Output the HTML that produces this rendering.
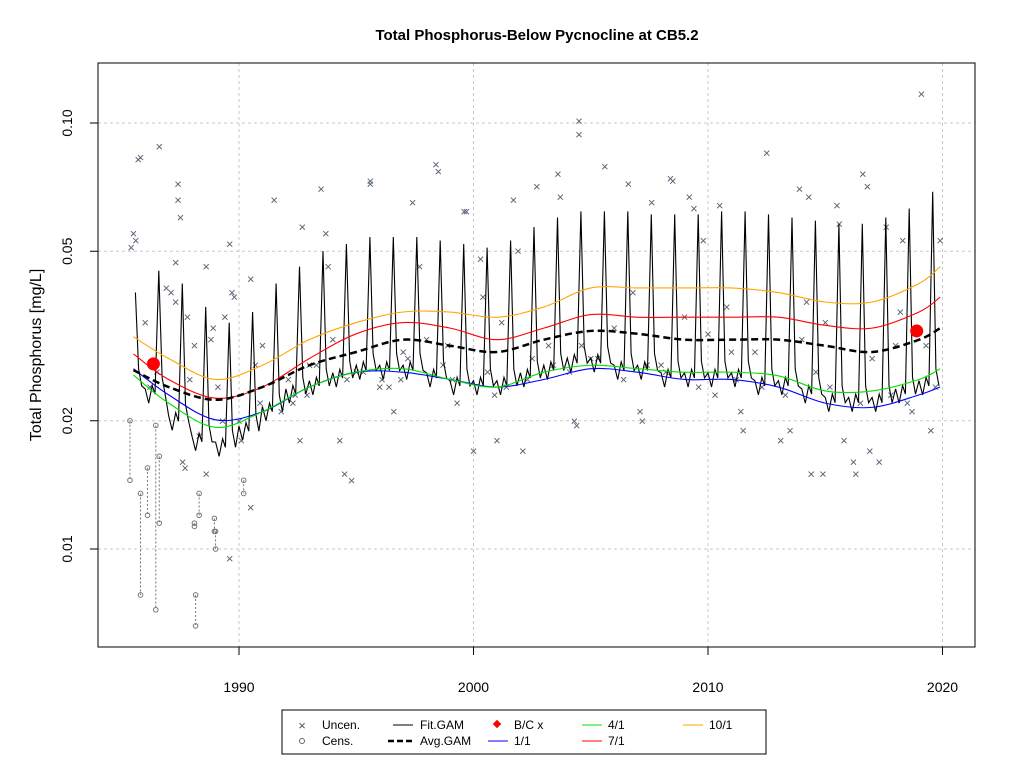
<!DOCTYPE html>
<html><head><meta charset="utf-8"><style>
body{margin:0;background:#fff;font-family:"Liberation Sans",Arial,sans-serif}
svg text{font-family:"Liberation Sans",Arial,sans-serif}
</style></head><body>
<svg id="chart" width="1024" height="768" xmlns="http://www.w3.org/2000/svg">
<rect width="1024" height="768" fill="#fff"/>
<text x="537" y="40" text-anchor="middle" font-size="15" font-weight="bold">Total Phosphorus-Below Pycnocline at CB5.2</text>
<g id="grid"></g>
<g id="marks"></g>
<rect x="98" y="63" width="877" height="584" fill="none" stroke="#000"/>
<g id="axes"></g>
<text transform="translate(41,355) rotate(-90)" text-anchor="middle" font-size="16">Total Phosphorus [mg/L]</text>
<g>
<rect x="282" y="710" width="484" height="44" fill="#fff" stroke="#000"/>
<g><text x="302" y="730" text-anchor="middle" font-size="13" fill="#4a5568">×</text><text x="322" y="729" font-size="12">Uncen.</text></g>
<g><circle cx="302" cy="741" r="2.5" fill="none" stroke="#666"/><text x="322" y="745" font-size="12">Cens.</text></g>
<g><line x1="393" y1="725" x2="413" y2="725" stroke="#000"/><text x="420" y="729" font-size="12">Fit.GAM</text></g>
<g><line x1="388" y1="741" x2="413" y2="741" stroke="#000" stroke-width="2.5" stroke-dasharray="6,3"/><text x="420" y="745" font-size="12">Avg.GAM</text></g>
<g><rect x="494" y="721" width="6" height="6" fill="red" transform="rotate(45 497 724)"/><text x="514" y="729" font-size="12">B/C x</text></g>
<g><line x1="488" y1="741" x2="508" y2="741" stroke="blue"/><text x="514" y="745" font-size="12">1/1</text></g>
<g><line x1="582" y1="725" x2="602" y2="725" stroke="#00e000"/><text x="608" y="729" font-size="12">4/1</text></g>
<g><line x1="582" y1="741" x2="602" y2="741" stroke="red"/><text x="608" y="745" font-size="12">7/1</text></g>
<g><line x1="683" y1="725" x2="703" y2="725" stroke="orange"/><text x="709" y="729" font-size="12">10/1</text></g>
</g>
</svg>
<script>
const xTicks=[1990,2000,2010,2020];
const yTicks=[0.01,0.02,0.05,0.10];
const yTickLabels=["0.01","0.02","0.05","0.10"];
const curveYears=[1985.5,1987,1989,1991,1993,1995,1997,1999,2001,2003,2005,2007,2009,2011,2013,2015,2017,2019,2019.9];
const orange10=[0.0315,0.028,0.025,0.027,0.031,0.034,0.036,0.036,0.035,0.037,0.041,0.041,0.041,0.041,0.040,0.038,0.038,0.042,0.046];
const red7=[0.0287,0.025,0.0226,0.024,0.028,0.032,0.034,0.033,0.031,0.033,0.0355,0.035,0.035,0.035,0.035,0.0335,0.033,0.036,0.039];
const avgGam=[0.0263,0.024,0.0224,0.024,0.027,0.029,0.031,0.030,0.029,0.031,0.0325,0.032,0.031,0.031,0.031,0.030,0.029,0.031,0.033];
const green4=[0.0256,0.022,0.0193,0.021,0.024,0.026,0.0265,0.025,0.024,0.026,0.027,0.0265,0.026,0.026,0.0255,0.0235,0.0235,0.025,0.0265];
const blue1=[0.0265,0.023,0.0201,0.021,0.024,0.026,0.026,0.025,0.024,0.025,0.0265,0.026,0.025,0.025,0.024,0.022,0.0215,0.023,0.024];
const fitYears=[1985,1986,1987,1988,1989,1990,1991,1992,1993,1994,1995,1996,1997,1998,1999,2000,2001,2002,2003,2004,2005,2006,2007,2008,2009,2010,2011,2012,2013,2014,2015,2016,2017,2018,2019];
const fitPeaks=[0.040,0.045,0.042,0.037,0.034,0.036,0.042,0.046,0.050,0.052,0.054,0.054,0.054,0.053,0.052,0.051,0.053,0.057,0.060,0.062,0.062,0.062,0.061,0.061,0.061,0.062,0.062,0.061,0.060,0.059,0.058,0.058,0.060,0.063,0.069];
const fitTroughs=[0.023,0.022,0.019,0.017,0.0165,0.018,0.020,0.022,0.023,0.024,0.025,0.025,0.025,0.024,0.023,0.023,0.023,0.024,0.025,0.026,0.026,0.025,0.025,0.024,0.024,0.024,0.024,0.023,0.023,0.022,0.021,0.021,0.021,0.022,0.023];
const uncenYears=[1985.4,1985.5,1985.6,1985.7,1985.8,1986.6,1986.0,1986.9,1987.1,1987.3,1987.4,1987.4,1987.5,1987.3,1987.6,1987.7,1987.9,1988.1,1988.6,1988.6,1988.8,1988.9,1989.4,1989.3,1989.6,1989.6,1989.7,1989.8,1990.0,1990.1,1990.5,1990.5,1991.5,1992.1,1992.3,1992.6,1992.7,1993.5,1993.7,1993.8,1994.3,1994.5,1994.8,1995.6,1995.6,1996.1,1996.6,1997.4,1997.7,1998.4,1998.5,1998.9,1999.3,1999.6,1999.7,2000.0,2000.3,2000.4,2000.9,2001.0,2001.7,2001.9,2002.1,2002.7,2003.6,2003.7,2004.4,2004.5,2004.5,2004.3,2004.6,2005.6,2006.6,2007.1,2007.2,2007.6,2008.4,2008.5,2009.2,2009.4,2009.8,2010.5,2011.4,2011.5,2012.5,2013.1,2013.5,2013.9,2014.3,2014.4,2014.9,2015.5,2015.6,2015.8,2016.2,2016.3,2016.6,2016.8,2016.9,2017.3,2017.6,2018.3,2018.7,2019.1,2019.5,2019.9,1986.2,1988.3,1991.0,1993.0,1995.0,1997.0,1998.0,2002.5,2003.2,2006.0,2008.0,2010.0,2012.0,2014.0,2017.0,2018.0,1990.7,1994.0,1996.0,2005.0,2009.0,2011.0,2015.0,2019.3,1986.5,1987.8,1989.1,1990.9,1991.8,1992.4,1993.3,1994.6,1995.3,1996.4,1997.2,1998.7,1999.1,2000.6,2001.4,2002.3,2003.4,2004.1,2005.3,2006.4,2007.4,2008.2,2009.6,2010.3,2011.2,2012.3,2013.3,2014.6,2015.2,2016.5,2017.8,2018.5,2019.7,1992.9,1996.9,2001.2,2006.8,2010.8,2014.2,2018.2];
const uncenValues=[0.051,0.055,0.053,0.082,0.083,0.088,0.034,0.041,0.040,0.038,0.072,0.066,0.060,0.047,0.016,0.0155,0.025,0.030,0.046,0.015,0.031,0.033,0.035,0.020,0.052,0.0095,0.040,0.039,0.020,0.018,0.0125,0.043,0.066,0.025,0.022,0.018,0.057,0.070,0.055,0.046,0.018,0.015,0.0145,0.073,0.072,0.025,0.021,0.065,0.046,0.080,0.077,0.030,0.022,0.062,0.062,0.017,0.048,0.039,0.023,0.018,0.066,0.050,0.017,0.071,0.076,0.067,0.0195,0.094,0.101,0.020,0.030,0.079,0.072,0.021,0.020,0.065,0.074,0.073,0.067,0.063,0.053,0.064,0.021,0.019,0.085,0.018,0.019,0.070,0.067,0.015,0.015,0.064,0.058,0.018,0.016,0.015,0.076,0.071,0.017,0.016,0.057,0.053,0.021,0.117,0.019,0.053,0.024,0.0184,0.030,0.027,0.026,0.029,0.031,0.028,0.030,0.033,0.027,0.032,0.029,0.031,0.028,0.030,0.027,0.031,0.024,0.028,0.035,0.029,0.034,0.030,0.026,0.035,0.024,0.022,0.021,0.023,0.027,0.025,0.026,0.024,0.028,0.027,0.025,0.026,0.024,0.025,0.027,0.026,0.028,0.025,0.027,0.026,0.024,0.023,0.025,0.024,0.023,0.026,0.024,0.022,0.023,0.022,0.024,0.023,0.025,0.034,0.040,0.037,0.038,0.036,0.035,0.038];
const censYears=[1985.35,1985.8,1986.1,1986.45,1986.6,1988.1,1988.15,1988.3,1988.95,1989.0,1990.2];
const censUpper=[0.020,0.0135,0.0155,0.0195,0.0165,0.0115,0.0078,0.0135,0.0118,0.011,0.0145];
const censLower=[0.0145,0.0078,0.0120,0.0072,0.0115,0.0113,0.0066,0.0120,0.0110,0.0100,0.0135];
const bcYears=[1986.35,2018.9];
const bcValues=[0.0272,0.0325];

const NS="http://www.w3.org/2000/svg";
const X=yr=>239+(yr-1990)*23.45;
const Y=v=>123+426*Math.log10(0.1/v);
const svg=document.getElementById('chart');
const grid=document.getElementById('grid'),marks=document.getElementById('marks'),axes=document.getElementById('axes');
function mk(tag,attrs,parent){const e=document.createElementNS(NS,tag);for(const k in attrs)e.setAttribute(k,attrs[k]);parent.appendChild(e);return e;}
xTicks.forEach(t=>{const l=mk('line',{x1:X(t),x2:X(t),y1:63,y2:647,stroke:'#c8c8c8','stroke-dasharray':'3,3'},grid);


const tk=mk('line',{x1:X(t),x2:X(t),y1:647,y2:655,stroke:'#000'},axes);


const tx=mk('text',{x:X(t),y:692,'text-anchor':'middle','font-size':14},axes);tx.textContent=t;

});
const ax=mk('line',{x1:X(1990),x2:X(2020),y1:647,y2:647,stroke:'#000'},axes);


yTicks.forEach((t,i)=>{const l=mk('line',{x1:98,x2:975,y1:Y(t),y2:Y(t),stroke:'#c8c8c8','stroke-dasharray':'3,3'},grid);


const tk=mk('line',{x1:90,x2:98,y1:Y(t),y2:Y(t),stroke:'#000'},axes);


const tx=mk('text',{transform:`translate(72,${Y(t)}) rotate(-90)`,'text-anchor':'middle','font-size':14},axes);tx.textContent=yTickLabels[i];

});
censYears.forEach((yr,i)=>{const l=mk('line',{x1:X(yr),x2:X(yr),y1:Y(censUpper[i]),y2:Y(censLower[i]),stroke:'#777','stroke-dasharray':'2,2'},marks);


[censUpper[i],censLower[i]].forEach(v=>{const c=mk('circle',{cx:X(yr),cy:Y(v),r:2.3,fill:'none',stroke:'#777'},marks);

});});
uncenYears.forEach((yr,i)=>{const t=mk('text',{x:X(yr),y:Y(uncenValues[i])+4.5,'text-anchor':'middle','font-size':13,fill:'#5a6478'},marks);t.textContent='×';

});
let pts=[];fitYears.forEach((yr,i)=>{const tr=fitTroughs[i],pk=fitPeaks[i];
[[yr,tr*1.08],[yr+0.15,tr],[yr+0.3,tr*1.1],[yr+0.42,tr*1.05],[yr+0.58,pk],[yr+0.72,tr*1.15],[yr+0.85,tr*1.05]].forEach(p=>{if(p[0]>=1985.5&&p[0]<=2019.9)pts.push(X(p[0]).toFixed(1)+','+Y(p[1]).toFixed(1));});});
const fit=mk('polyline',{points:pts.join(' '),fill:'none',stroke:'#000','stroke-width':1.1},marks);


function smooth(vals){const p=curveYears.map((yr,i)=>[X(yr),Y(vals[i])]);let d='M'+p[0][0]+','+p[0][1];
for(let i=0;i<p.length-1;i++){const p0=p[i-1]||p[i],p1=p[i],p2=p[i+1],p3=p[i+2]||p2;
d+=` C${p1[0]+(p2[0]-p0[0])/6},${p1[1]+(p2[1]-p0[1])/6} ${p2[0]-(p3[0]-p1[0])/6},${p2[1]-(p3[1]-p1[1])/6} ${p2[0]},${p2[1]}`;}return d;}
[[blue1,'blue','curve-1-1'],[green4,'#00e000','curve-4-1'],[red7,'red','curve-7-1'],[orange10,'orange','curve-10-1']].forEach(c=>{const p=mk('path',{d:smooth(c[0]),fill:'none',stroke:c[1],'stroke-width':1.1},marks);

});
const avg=mk('path',{d:smooth(avgGam),fill:'none',stroke:'#000','stroke-width':2.5,'stroke-dasharray':'7,4'},marks);


bcYears.forEach((yr,i)=>{const c=mk('circle',{cx:X(yr),cy:Y(bcValues[i]),r:6.5,fill:'red'},marks);

});
</script>
</body></html>
